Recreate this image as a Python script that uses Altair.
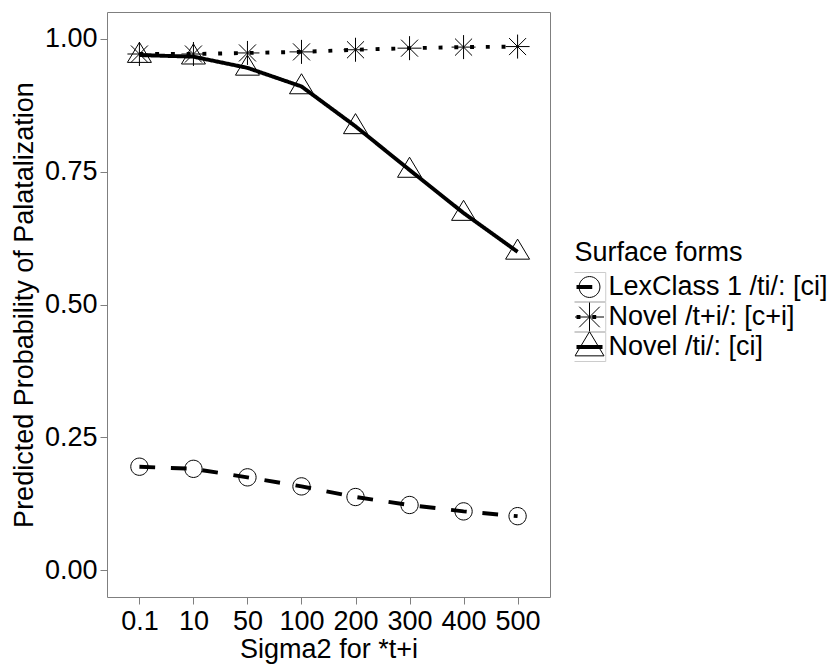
import altair as alt
import pandas as pd

# ---- data ----
sigma_labels = ["0.1", "10", "50", "100", "200", "300", "400", "500"]
series_names = ["LexClass 1 /ti/: [ci]", "Novel /t+i/: [c+i]", "Novel /ti/: [ci]"]
lexclass_vals = [0.195, 0.191, 0.175, 0.158, 0.138, 0.123, 0.111, 0.102]
novel_tplusi_vals = [0.971, 0.971, 0.973, 0.975, 0.979, 0.982, 0.984, 0.985]
novel_ti_vals = [0.969, 0.966, 0.945, 0.910, 0.835, 0.753, 0.672, 0.599]
y_ticks = [0.0, 0.25, 0.5, 0.75, 1.0]

rows = []
for name, vals in zip(series_names, [lexclass_vals, novel_tplusi_vals, novel_ti_vals]):
    for i, (s, v) in enumerate(zip(sigma_labels, vals)):
        rows.append({"sigma": s, "prob": v, "series": name, "idx": i})
df = pd.DataFrame(rows)

FONT = "Liberation Sans"
FS = 27
GREY = "#7f7f7f"

circle_path = "M-0.72,0A0.72,0.72,0,1,1,0.72,0A0.72,0.72,0,1,1,-0.72,0Z"
star_path = "M-1,0L1,0M0,-1L0,1M-0.71,-0.71L0.71,0.71M-0.71,0.71L0.71,-0.71"
tri_path = "M0,-1.06L1,0.61L-1,0.61Z"
box_path = "M-1.12,-1L1.12,-1L1.12,1L-1.12,1Z"
dashes = [[15.75, 15.75], [3.94, 11.81], [1, 0]]

common = dict(
    orient="none", legendX=467.5, legendY=228, padding=0, rowPadding=0,
    labelOffset=4, labelFontSize=FS, titleFontSize=FS, labelLimit=400,
    titlePadding=5, titleFontWeight="normal", labelFont=FONT, titleFont=FONT,
    direction="vertical", clipHeight=30,
)

base = alt.Chart(df).transform_calculate(
    series_b="datum.series", series_c="datum.series"
)

x = alt.X(
    "sigma:O", sort=sigma_labels,
    scale=alt.Scale(type="point", padding=0.6),
    axis=alt.Axis(title="Sigma2 for *t+i", labelAngle=0, labelPadding=4,
                  titlePadding=2, labelOverlap=False),
)
y = alt.Y(
    "prob:Q",
    scale=alt.Scale(domain=[-0.05, 1.05], nice=False, zero=False),
    axis=alt.Axis(title="Predicted Probability of Palatalization", values=y_ticks,
                  format=".2f", labelPadding=3, titlePadding=6),
)

boxes = base.mark_point(filled=False, shape=box_path, strokeWidth=1, size=841).encode(
    x=x, y=y,
    color=alt.Color("series_c:N", scale=alt.Scale(range=["#cccccc"] * 3),
                    legend=alt.Legend(symbolType=box_path, symbolSize=841,
                                      symbolStrokeWidth=1, symbolOpacity=1,
                                      title=" ", labelExpr="''", **common)),
    opacity=alt.value(0),
)

points = base.mark_point(filled=False, color="black", strokeWidth=1, size=576, opacity=1).encode(
    x=x, y=y,
    shape=alt.Shape("series:N", scale=alt.Scale(range=[circle_path, star_path, tri_path]),
                    legend=alt.Legend(symbolSize=841, symbolStrokeWidth=1,
                                      symbolStrokeColor="black", symbolFillColor="transparent",
                                      title=" ", labelExpr="''", **common)),
)

lines = base.mark_line(color="black", strokeWidth=3.9).encode(
    x=x, y=y, order="idx:Q",
    strokeDash=alt.StrokeDash("series_b:N", scale=alt.Scale(range=dashes),
                              legend=alt.Legend(symbolType="stroke", symbolSize=676,
                                                symbolStrokeWidth=3.9, symbolStrokeColor="black",
                                                labelColor="black", titleColor="black",
                                                title="Surface forms", **common)),
)

chart = alt.layer(boxes, points, lines).properties(
    width=443, height=585,
    autosize=alt.AutoSizeParams(type="none"),
    padding={"left": 107, "top": 12, "right": 289, "bottom": 67},
    background="white",
).configure_view(
    stroke=GREY, strokeWidth=1, fill="white"
).configure_axis(
    grid=False, domain=False, tickColor=GREY, tickWidth=1, tickSize=7,
    labelFont=FONT, titleFont=FONT, labelFontSize=FS, titleFontSize=FS,
    labelColor="black", titleColor="black", titleFontWeight="normal",
)

chart.save("out.html", embed_options={"renderer": "svg", "actions": False})
